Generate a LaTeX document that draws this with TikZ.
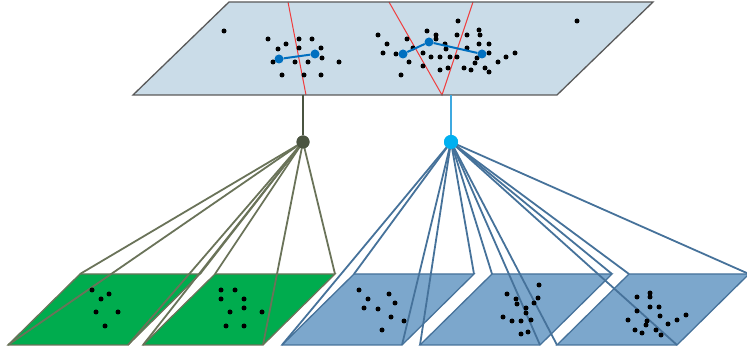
\documentclass[tikz,border=0pt]{standalone}
\definecolor{plane}{HTML}{CADCE8}
\definecolor{planeedge}{HTML}{595959}
\definecolor{gfill}{HTML}{00AC4E}
\definecolor{gline}{HTML}{6A7359}
\definecolor{bfill}{HTML}{7CA7CC}
\definecolor{bline}{HTML}{46729A}
\definecolor{dnode}{HTML}{4A5440}
\definecolor{lnode}{HTML}{00B0F0}
\definecolor{lstem}{HTML}{3FA9E0}
\definecolor{cnode}{HTML}{0070C0}
\definecolor{redl}{HTML}{F03C3C}
\tikzset{
  dot/.style={circle,fill=black,inner sep=0pt,minimum size=5pt},
  cdot/.style={circle,fill=cnode,inner sep=0pt,minimum size=9pt},
  gconn/.style={draw=gline,line width=1.8pt},
  bconn/.style={draw=bline,line width=1.8pt},
  gpar/.style={fill=gfill,draw=gline,line width=1.3pt},
  bpar/.style={fill=bfill,draw=bline,line width=1.3pt},
}
\newcommand{\corners}[2]{%
  \coordinate (#1bl) at (#2,345);
  \coordinate (#1br) at ({#2+120},345);
  \coordinate (#1tr) at ({#2+192},274);
  \coordinate (#1tl) at ({#2+72},274);}
\begin{document}
\begin{tikzpicture}[x=1pt,y=-1pt]
\useasboundingbox (0,0) rectangle (747,352);
% top plane
\coordinate (pbl) at (133,95);
\coordinate (pbr) at (557,95);
\coordinate (ptr) at (653,2);
\coordinate (ptl) at (229,2);
\fill[plane] (pbl) -- (pbr) -- (ptr) -- (ptl) -- cycle;
% red lines
\coordinate (r1a) at (288,2); \coordinate (r1b) at (306,95);
\coordinate (r2a) at (389,2); \coordinate (r2b) at (442,95); \coordinate (r2c) at (473,2);
\draw[redl,line width=1pt] (r1a) -- (r1b);
\draw[redl,line width=1pt] (r2a) -- (r2b) -- (r2c);
\draw[planeedge,line width=1.3pt] (pbl) -- (pbr) -- (ptr) -- (ptl) -- cycle;
% dots top
\foreach \p in {(224,31),(577,21),
 (268,39),(286,44),(299,39),(312,39),(278,49),(299,48),(321,48),(273,62),(295,62),(308,62),(322,58),(339,62),(282,75),(304,75),(321,75),
 (378,35),(387,44),(383,53),(396,54),(407,39),(409,62),(401,75),(413,48),(423,53),(423,66),(427,31),(436,35),(436,39),(445,44),(446,49),(431,57),(440,57),(450,57),(457,57),(440,70),(448,68),(458,21),(457,35),(467,35),(467,48),(464,68),(471,70),(479,30),(480,35),(479,44),(489,44),(489,53),(477,58),(475,63),(485,68),(489,72),(498,62),(506,57),(515,53)}
  \node[dot] at \p {};
% blue cluster path
\node[cdot] (c1) at (279,59) {};
\node[cdot] (c2) at (315,54) {};
\node[cdot] (c3) at (403,54) {};
\node[cdot] (c4) at (429,42) {};
\node[cdot] (c5) at (482,54) {};
\draw[cnode,line width=2pt] (c1) -- (c2);
\draw[cnode,line width=2pt] (c3) -- (c4) -- (c5);
% stems and hub nodes
\coordinate (sd) at (303,95);
\coordinate (sl) at (451,95);
\node[circle,fill=dnode,inner sep=0pt,minimum size=13pt] (dn) at (303,142) {};
\node[circle,fill=lnode,inner sep=0pt,minimum size=14pt] (ln) at (451,142) {};
\draw[dnode,line width=2pt] (sd) -- (dn);
\draw[lstem,line width=2pt] (sl) -- (ln);
% children
\corners{ga}{8}
\corners{gb}{143}
\corners{ba}{282}
\corners{bb}{420}
\corners{bc}{557}
\foreach \c in {ga,gb}
  \path[gpar] (\c bl) -- (\c br) -- (\c tr) -- (\c tl) -- cycle;
\foreach \c in {ba,bb,bc}
  \path[bpar] (\c bl) -- (\c br) -- (\c tr) -- (\c tl) -- cycle;
% connectors
\foreach \c in {ga,gb}
  \foreach \k in {tl,tr,bl,br}
    \path[gconn] (dn.center) -- (\c\k);
\foreach \c in {ba,bb,bc}
  \foreach \k in {tl,tr,bl,br}
    \path[bconn] (ln.center) -- (\c\k);
\node[circle,fill=dnode,inner sep=0pt,minimum size=13pt] at (dn) {};
\node[circle,fill=lnode,inner sep=0pt,minimum size=14pt] at (ln) {};
% child dots
\foreach \p in {(92,290),(109,294),(101,299),(96,312),(118,312),(105,326),
 (221,290),(235,290),(221,299),(244,299),(244,308),(230,312),(262,312),(226,326),(244,326),
 (359,290),(368,299),(389,294),(395,303),(364,308),(378,309),(391,317),(404,321),(382,330),
 (539,285),(507,294),(516,299),(517,304),(538,298),(534,303),(526,308),(526,313),(503,317),(512,321),(521,321),(531,320),(521,334),(528,332),
 (650,293),(650,297),(637,297),(650,307),(659,307),(637,311),(660,316),(628,320),(647,321),(646,325),(668,324),(677,320),(686,315),(635,330),(642,333),(656,330),(661,335)}
  \node[dot] at \p {};
\end{tikzpicture}
\end{document}
